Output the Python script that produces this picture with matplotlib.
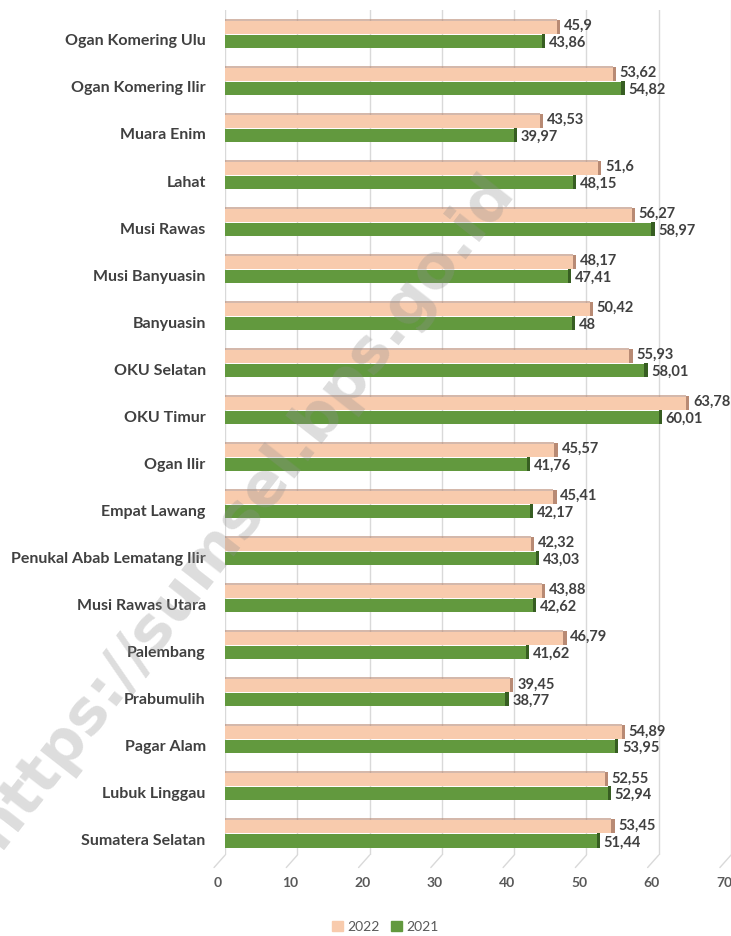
import numpy as np
import matplotlib
matplotlib.use("Agg")
import matplotlib.pyplot as plt
import matplotlib.transforms as mtransforms
from matplotlib.patches import Patch

# data
regions = ['Ogan Komering Ulu', 'Ogan Komering Ilir', 'Muara Enim', 'Lahat', 'Musi Rawas',
           'Musi Banyuasin', 'Banyuasin', 'OKU Selatan', 'OKU Timur', 'Ogan Ilir',
           'Empat Lawang', 'Penukal Abab Lematang Ilir', 'Musi Rawas Utara', 'Palembang',
           'Prabumulih', 'Pagar Alam', 'Lubuk Linggau', 'Sumatera Selatan']
val_2022 = [45.9, 53.62, 43.53, 51.6, 56.27, 48.17, 50.42, 55.93, 63.78, 45.57,
            45.41, 42.32, 43.88, 46.79, 39.45, 54.89, 52.55, 53.45]
val_2021 = [43.86, 54.82, 39.97, 48.15, 58.97, 47.41, 48, 58.01, 60.01, 41.76,
            42.17, 43.03, 42.62, 41.62, 38.77, 53.95, 52.94, 51.44]

peach = '#F8CBAD'
peach_dark = '#B88A74'
green = '#62993E'
green_dark = '#375E22'
txt = '#404040'

plt.rcParams['font.family'] = ['Lato', 'DejaVu Sans']

fig = plt.figure(figsize=(7.31, 9.36), dpi=100)
ax = fig.add_axes([0.308, 0.0865, 0.692, 0.9025])

y = np.arange(len(regions))
h = 0.28
off = 0.15

# main bars
ax.barh(y - off, val_2022, height=h, color=peach, zorder=3)
ax.barh(y + off, val_2021, height=h, color=green, zorder=3)
# 3d-ish top edge and end cap
ax.barh(y - off - h / 2 - 0.02, val_2022, height=0.05, color=peach_dark, alpha=0.6, zorder=3)
ax.barh(y - off - 0.01, 0.45, left=val_2022, height=h + 0.02, color=peach_dark, zorder=3)
ax.barh(y + off - 0.01, 0.45, left=val_2021, height=h + 0.02, color=green_dark, zorder=3)

def fmt(v):
    return f"{v:g}".replace('.', ',')

for yi, a, b in zip(y, val_2022, val_2021):
    ax.annotate(fmt(a), (a, yi - off), xytext=(5, 1), textcoords='offset points',
                ha='left', va='center', fontsize=10.5, fontweight='bold', color=txt, zorder=5)
    ax.annotate(fmt(b), (b, yi + off), xytext=(5, -1), textcoords='offset points',
                ha='left', va='center', fontsize=10.5, fontweight='bold', color=txt, zorder=5)

ax.set_xlim(0, 70)
ax.set_ylim(17.45, -0.51)
ax.set_xticks(np.arange(0, 71, 10))
ax.set_yticks(y + 0.12)
ax.set_yticklabels(regions, fontsize=11.5, fontweight='bold', color=txt)
ax.tick_params(axis='y', length=0, pad=14)
ax.tick_params(axis='x', length=0, pad=16, labelsize=10, labelcolor='#595959')
for lab in ax.get_xticklabels():
    lab.set_fontweight('bold')
    lab.set_transform(lab.get_transform() + mtransforms.ScaledTranslation(-7 / 100, 0, fig.dpi_scale_trans))

ax.grid(axis='x', color='#D9D9D9', linewidth=1, zorder=0)
for s in ax.spines.values():
    s.set_visible(False)

# floor ticks
for xv in np.arange(0, 71, 10):
    ax.annotate('', xy=(xv, 17.45), xytext=(-8, -9), textcoords='offset points',
                xycoords='data', annotation_clip=False,
                arrowprops=dict(arrowstyle='-', color='#D9D9D9', lw=1, shrinkA=0, shrinkB=0))

handles = [Patch(color=peach, label='2022'), Patch(color=green, label='2021')]
fig.legend(handles=handles, loc='center', bbox_to_anchor=(0.527, 0.01), ncol=2, frameon=False,
           fontsize=10, handlelength=0.8, handleheight=0.8, handletextpad=0.3, columnspacing=0.8,
           labelcolor='#595959')

# watermark
fig.text(0.335, 0.455, 'https://sumsel.bps.go.id', rotation=52, ha='center', va='center',
         fontsize=44, fontweight='bold', color='#909090', alpha=0.3, family='DejaVu Sans', zorder=10)

fig.savefig('out.png', dpi=100)
